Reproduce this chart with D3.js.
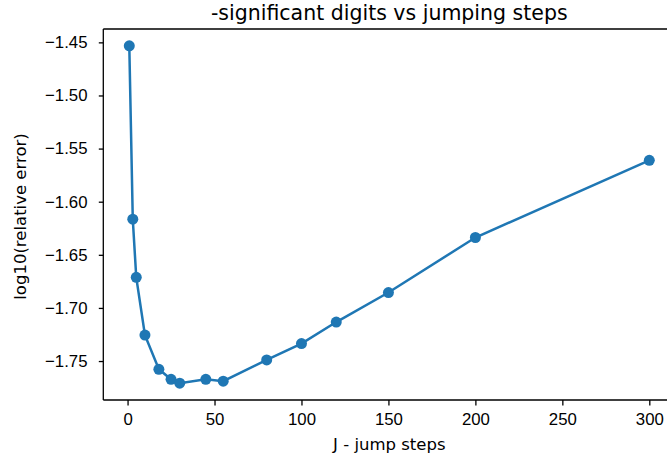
<!DOCTYPE html>
<html lang="en">
  <head>
    <meta charset="UTF-8" />
    <title>significant digits vs jumping steps</title>
    <script src="https://d3js.org/d3.v7.min.js"></script>
    <style>
      body {
        margin: 0;
        background: #fff;
      }
      svg {
        display: block;
        font-family: "DejaVu Sans", sans-serif;
      }
      .axis path,
      .axis line {
        stroke: #000;
        stroke-width: 1.3px;
      }
      .axis text {
        font-size: 16.8px;
        fill: #000;
      }
    </style>
  </head>
  <body>
    <svg width="667" height="462"></svg>

    <script>
      const jumpSteps = [1, 3, 5, 10, 18, 25, 30, 45, 55, 80, 100, 120, 150, 200, 300];
      const logError = [
        -1.4533, -1.6165, -1.6712, -1.7256, -1.7578, -1.7672, -1.7708, -1.7672,
        -1.7690, -1.7490, -1.7336, -1.7133, -1.6855, -1.6337, -1.5610,
      ];
      const xTicks = [0, 50, 100, 150, 200, 250, 300];
      const yTicks = [-1.45, -1.5, -1.55, -1.6, -1.65, -1.7, -1.75];

      const data = jumpSteps.map((j, i) => ({j: j, v: logError[i]}));

      const svg = d3.select("svg"),
        margin = {top: 29, left: 103.3},
        width = 572,
        height = 371,
        g = svg.append("g").attr("transform", `translate(${margin.left},${margin.top})`);

      // matplotlib style 5% padding around data
      const [x0, x1] = d3.extent(jumpSteps);
      const [y0, y1] = d3.extent(logError);
      const px = (x1 - x0) * 0.05,
        py = (y1 - y0) * 0.05;

      const x = d3.scaleLinear().domain([x0 - px, x1 + px]).range([0, width]);
      const y = d3.scaleLinear().domain([y0 - py, y1 + py]).range([height, 0]);

      // top + right spines (right one falls outside the crop)
      g.append("path")
        .attr("d", `M0,0H${width}V${height}`)
        .attr("fill", "none")
        .attr("stroke", "#000")
        .attr("stroke-width", 1.3);

      g.append("g")
        .attr("class", "axis")
        .attr("transform", `translate(0,${height})`)
        .call(d3.axisBottom(x).tickValues(xTicks).tickSize(5.5).tickPadding(7.5).tickSizeOuter(0))
        .call((a) => a.select(".domain").attr("d", `M0,0H${width}`));

      // matplotlib uses a real minus sign
      const fmtY = (d) => d3.format(".2f")(d).replace(/^[-\u2212]/, "\u2212");

      g.append("g")
        .attr("class", "axis")
        .call(d3.axisLeft(y).tickValues(yTicks).tickFormat(fmtY).tickSize(4.5).tickPadding(11.3).tickSizeOuter(0))
        .call((a) => a.select(".domain").attr("d", `M0,0V${height}`));

      const line = d3.line().x((d) => x(d.j)).y((d) => y(d.v));

      g.append("path")
        .datum(data)
        .attr("fill", "none")
        .attr("stroke", "#1f77b4")
        .attr("stroke-width", 2.5)
        .attr("d", line);

      g.selectAll(".dot")
        .data(data)
        .join("circle")
        .attr("class", "dot")
        .attr("cx", (d) => x(d.j))
        .attr("cy", (d) => y(d.v))
        .attr("r", 5.5)
        .attr("fill", "#1f77b4");

      // title and labels
      svg.append("text")
        .attr("x", margin.left + width / 2)
        .attr("y", 19.5)
        .attr("text-anchor", "middle")
        .attr("font-size", 20.5)
        .text("-significant digits vs jumping steps");

      svg.append("text")
        .attr("x", margin.left + width / 2)
        .attr("y", 450)
        .attr("text-anchor", "middle")
        .attr("font-size", 16.5)
        .text("J - jump steps");

      svg.append("text")
        .attr("transform", `translate(25.5,${margin.top + height / 2 + 2}) rotate(-90)`)
        .attr("text-anchor", "middle")
        .attr("font-size", 16.5)
        .text("log10(relative error)");
    </script>
  </body>
</html>
